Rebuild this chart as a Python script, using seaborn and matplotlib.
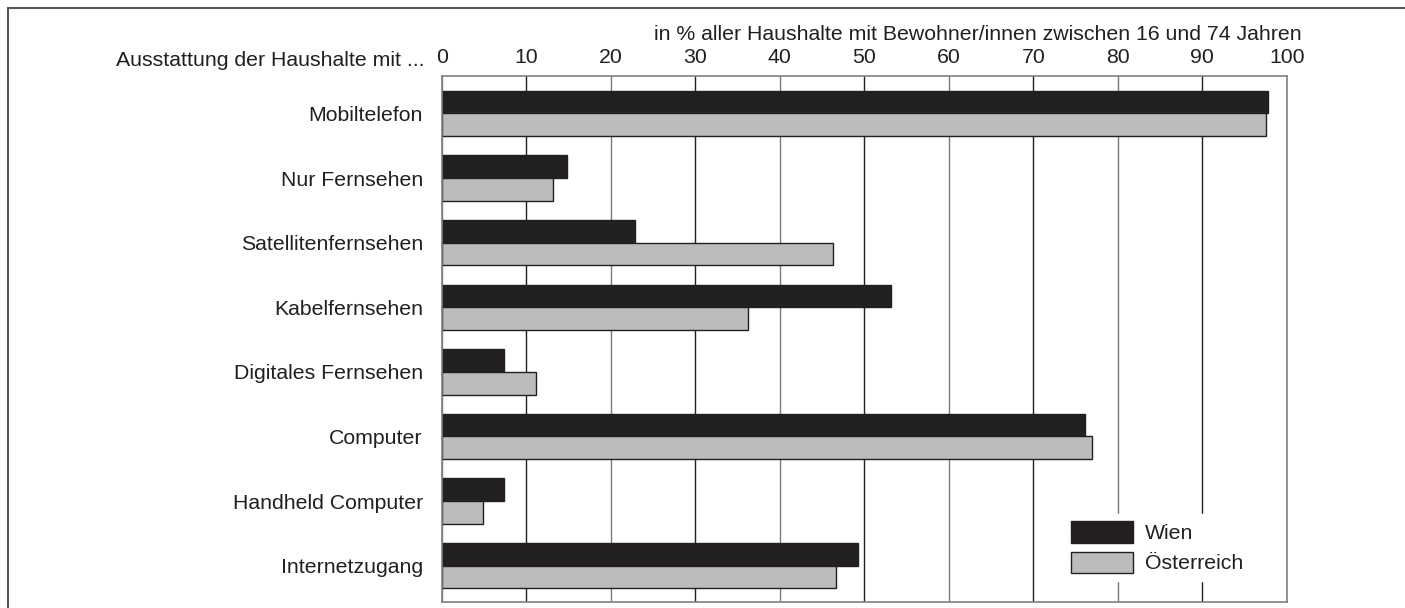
import matplotlib
matplotlib.use("Agg")
import matplotlib.pyplot as plt
from matplotlib.patches import Patch, Rectangle
import seaborn as sns
import pandas as pd

categories = ["Mobiltelefon", "Nur Fernsehen", "Satellitenfernsehen", "Kabelfernsehen",
              "Digitales Fernsehen", "Computer", "Handheld Computer", "Internetzugang"]
wien = [97.8, 14.8, 22.8, 53.2, 7.3, 76.1, 7.3, 49.2]
oesterreich = [97.5, 13.1, 46.3, 36.2, 11.1, 77.0, 4.9, 46.7]
series_names = ["Wien", "Österreich"]
x_ticks = [0, 10, 20, 30, 40, 50, 60, 70, 80, 90, 100]
left_title = "Ausstattung der Haushalte mit ..."
top_title = "in % aller Haushalte mit Bewohner/innen zwischen 16 und 74 Jahren"

df = pd.DataFrame({
    "Kategorie": categories * 2,
    "Wert": wien + oesterreich,
    "Region": [series_names[0]] * len(categories) + [series_names[1]] * len(categories),
})

sns.set_theme(style="white")
plt.rcParams["font.family"] = ["Liberation Sans", "DejaVu Sans"]

dark = "#231f20"
light = "#bbbcbe"
fs = 15.3
W, H = 1405, 608

fig = plt.figure(figsize=(W / 100, H / 100), dpi=100)
ax = fig.add_axes([441.9 / W, 1 - 601.5 / H, (1286.7 - 441.9) / W, (601.5 - 76) / H])

sns.barplot(data=df, x="Wert", y="Kategorie", hue="Region", orient="h",
            palette={series_names[0]: dark, series_names[1]: light},
            width=0.704, edgecolor=dark, linewidth=1.0, legend=False, ax=ax)

ax.set_xlim(0, 100)
ax.set_ylim(7.554, -0.579)
ax.set_xticks(x_ticks)
ax.xaxis.tick_top()
ax.set_xlabel("")
ax.set_ylabel("")
ax.tick_params(axis="x", length=0, pad=6.7, labelsize=fs, labelcolor=dark)
ax.tick_params(axis="y", length=0, pad=13.7, labelsize=fs, labelcolor=dark)

ax.set_axisbelow(True)
ax.xaxis.grid(True, linewidth=1.0)
for i, gl in enumerate(ax.get_xgridlines()):
    gl.set_color(dark if i % 2 == 1 else "#7a7a7a")
for s in ax.spines.values():
    s.set_visible(True)
    s.set_color("#808080")
    s.set_linewidth(1.2)

fig.text(424 / W, 1 - 66.5 / H, left_title, ha="right", va="baseline", fontsize=fs, color=dark)
fig.text(1302 / W, 1 - 40.5 / H, top_title, ha="right", va="baseline", fontsize=fs, color=dark)

handles = [Patch(facecolor=dark, edgecolor=dark, linewidth=1.0, label=series_names[0]),
           Patch(facecolor=light, edgecolor=dark, linewidth=1.0, label=series_names[1])]
leg = ax.legend(handles=handles, loc="upper left",
                bbox_to_anchor=(1064 / W, 1 - 514 / H), bbox_transform=fig.transFigure,
                fontsize=fs, frameon=True, framealpha=1, facecolor="white", edgecolor="white",
                handlelength=2.9, handleheight=1.15, handletextpad=0.55, labelspacing=0.4,
                borderpad=0.35, borderaxespad=0, fancybox=False)
for t in leg.get_texts():
    t.set_color(dark)

fig.patches.append(Rectangle((8 / W, -0.1), 1.2, 1 - 8 / H + 0.1, transform=fig.transFigure,
                             fill=False, edgecolor="#555555", linewidth=1.5))

fig.savefig("out.png", dpi=100)
